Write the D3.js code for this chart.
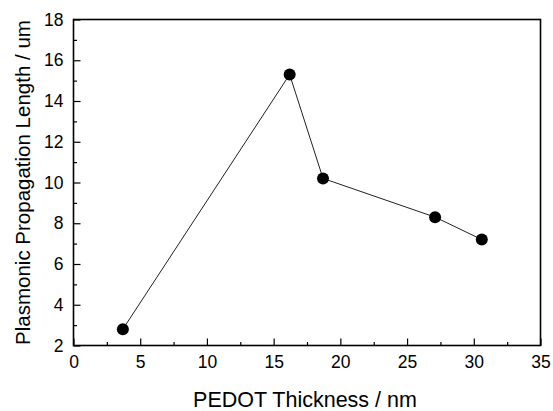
<!DOCTYPE html>
<html>
<head>
<meta charset="utf-8">
<script src="https://cdn.jsdelivr.net/npm/d3@7"></script>
<style>
  body { margin: 0; background: #fff; }
  text { font-family: "Liberation Sans", Arial, sans-serif; fill: #000; }
</style>
</head>
<body>
<div id="chart"></div>
<script>
const thickness = [3.7, 16.2, 18.7, 27.1, 30.6];
const propLength = [2.8, 15.3, 10.2, 8.3, 7.2];
const xMajorTicks = [0, 5, 10, 15, 20, 25, 30, 35];
const yMajorTicks = [2, 4, 6, 8, 10, 12, 14, 16, 18];
const xLabel = 'PEDOT Thickness / nm';
const yLabel = 'Plasmonic Propagation Length / um';

const W = 553, H = 411;
const margin = { top: 19.5, right: 12.5, bottom: 65.5, left: 73.5 };
const innerW = W - margin.left - margin.right;
const innerH = H - margin.top - margin.bottom;

const svg = d3.select('#chart').append('svg')
    .attr('width', W)
    .attr('height', H);
const g = svg.append('g')
    .attr('transform', `translate(${margin.left},${margin.top})`);

const x = d3.scaleLinear().domain([0, 35]).range([0, innerW]);
const y = d3.scaleLinear().domain([2, 18]).range([innerH, 0]);

// minor ticks (every half step)
const xMinor = d3.range(2.5, 35, 5);
const yMinor = d3.range(3, 18, 2);

g.append('g')
    .attr('transform', `translate(0,${innerH})`)
    .call(d3.axisBottom(x).tickValues(xMinor).tickSize(-3.5).tickFormat(''))
    .call(a => a.select('.domain').remove());
g.append('g')
    .call(d3.axisLeft(y).tickValues(yMinor).tickSize(-3.5).tickFormat(''))
    .call(a => a.select('.domain').remove());

const xAxis = g.append('g')
    .attr('transform', `translate(0,${innerH})`)
    .call(d3.axisBottom(x).tickValues(xMajorTicks).tickSize(-7).tickPadding(10.5).tickFormat(d3.format('d')));
const yAxis = g.append('g')
    .call(d3.axisLeft(y).tickValues(yMajorTicks).tickSize(-7).tickPadding(10).tickFormat(d3.format('d')));

for (const a of [xAxis, yAxis]) {
    a.select('.domain').remove();
    a.selectAll('text').attr('font-size', 17.5).attr('font-family', '"Liberation Sans", Arial, sans-serif');
}
g.selectAll('.tick line').attr('stroke', '#000').attr('stroke-width', 1.2);

// frame
g.append('rect')
    .attr('x', 0).attr('y', 0)
    .attr('width', innerW).attr('height', innerH)
    .attr('fill', 'none')
    .attr('stroke', '#000')
    .attr('stroke-width', 1.6);

const pts = thickness.map((t, i) => [t, propLength[i]]);

g.append('path')
    .datum(pts)
    .attr('fill', 'none')
    .attr('stroke', '#222')
    .attr('stroke-width', 1)
    .attr('d', d3.line().x(d => x(d[0])).y(d => y(d[1])));

g.selectAll('circle.pt')
    .data(pts)
    .enter()
    .append('circle')
    .attr('class', 'pt')
    .attr('cx', d => x(d[0]))
    .attr('cy', d => y(d[1]))
    .attr('r', 6)
    .attr('fill', '#000');

svg.append('text')
    .attr('x', 305)
    .attr('y', 406.5)
    .attr('text-anchor', 'middle')
    .attr('font-size', 21.5)
    .text(xLabel);

svg.append('text')
    .attr('transform', `translate(29.5,${margin.top + innerH / 2}) rotate(-90)`)
    .attr('text-anchor', 'middle')
    .attr('font-size', 20.5)
    .text(yLabel);
</script>
</body>
</html>
